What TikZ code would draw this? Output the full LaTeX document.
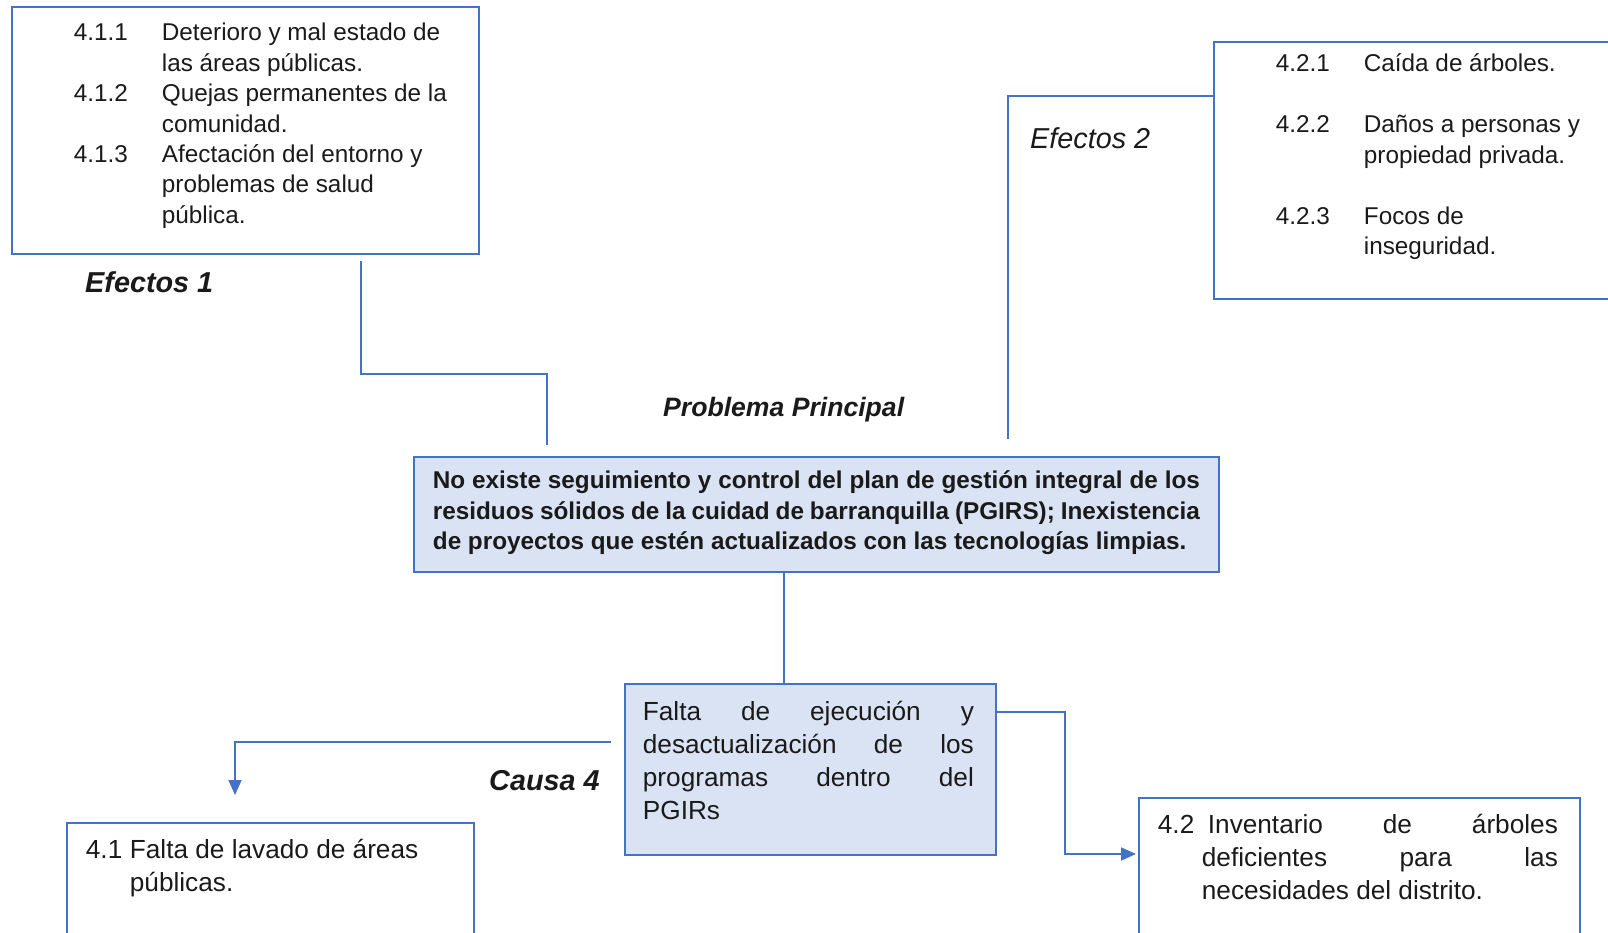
\documentclass[tikz,border=0pt]{standalone}
\usepackage{fontspec}
\setmainfont{Liberation Sans}
\usetikzlibrary{arrows.meta}
\definecolor{boxblue}{HTML}{4472C4}
\definecolor{fillblue}{HTML}{DAE3F3}
\definecolor{ink}{HTML}{1A1A1A}
\def\uptxt{\fontsize{24.3}{30.4}\selectfont}
\def\lowtxt{\fontsize{26.2}{33}\selectfont}
\def\labtxt{\fontsize{28.8}{34}\selectfont}
\def\probtxt{\fontsize{26.6}{32}\selectfont}
\newcommand\numitem[3]{\hangindent=#1\hangafter=1\noindent\makebox[#1][l]{#2}#3\par}
\tikzstyle{box} = [rectangle, draw=boxblue, line width=1.8pt, inner sep=0pt, anchor=north west, text=ink]
\tikzstyle{shaded} = [box, fill=fillblue]
\tikzstyle{tag} = [inner sep=0pt, anchor=base west, text=ink]
\tikzstyle{link} = [draw=boxblue, line width=1.8pt]
\tikzstyle{aro} = [link, -{Triangle[length=15pt,width=13pt]}]

\begin{document}
\begin{tikzpicture}[x=1pt, y=-1pt]
  \useasboundingbox (0,0) rectangle (1608,933);
  \clip (0,0) rectangle (1608,933);

  \node (e1) [box] at (11,6) {\parbox[t][247pt][t]{467pt}{\uptxt\leftskip=62pt
    \numitem{88pt}{\rule{0pt}{34pt}4.1.1}{Deterioro y mal estado de\\las áreas públicas.}
    \numitem{88pt}{4.1.2}{Quejas permanentes de la\\comunidad.}
    \numitem{88pt}{4.1.3}{Afectación del entorno y\\problemas de salud\\pública.}}};
  \node (lab1) [tag, font=\labtxt\bfseries\itshape] at (85,292) {Efectos 1};

  \node (e2) [box] at (1213,41) {\parbox[t][257pt][t]{420pt}{\uptxt\leftskip=62pt
    \numitem{88pt}{\rule{0pt}{30pt}4.2.1}{Caída de árboles.}\vspace{30.6pt}
    \numitem{88pt}{4.2.2}{Daños a personas y\\propiedad privada.}\vspace{30.6pt}
    \numitem{88pt}{4.2.3}{Focos de\\inseguridad.}}};
  \node (lab2) [tag, font=\labtxt\itshape] at (1030,149) {Efectos 2};

  \node (labp) [tag, font=\probtxt\bfseries\itshape] at (663,416) {Problema Principal};
  \node (main) [shaded] at (413,456) {\parbox[t][115pt][t]{805pt}{\uptxt\bfseries\leftskip=19pt\rightskip=19pt
    \rule{0pt}{32pt}No existe seguimiento y control del plan de gestión integral de los\linebreak
    residuos sólidos de la cuidad de barranquilla (PGIRS); Inexistencia\linebreak
    de proyectos que estén actualizados con las tecnologías limpias.}};

  \node (cause) [shaded] at (624,683) {\parbox[t][171pt][t]{371pt}{\lowtxt\leftskip=18pt\rightskip=22pt
    \rule{0pt}{37pt}Falta de ejecución y\linebreak desactualización de los\linebreak
    programas dentro del\linebreak PGIRs}};
  \node (lab4) [tag, font=\labtxt\bfseries\itshape] at (489,790) {Causa 4};

  \node (b41) [box] at (66,822) {\parbox[t][130pt][t]{407pt}{\lowtxt\leftskip=19pt
    \numitem{44pt}{\rule{0pt}{36pt}4.1}{Falta de lavado de áreas\\públicas.}}};

  \node (b42) [box] at (1138,797) {\parbox[t][150pt][t]{441pt}{\lowtxt\leftskip=19pt\rightskip=22pt
    \numitem{44pt}{\rule{0pt}{36pt}4.2}{\hspace{6pt}Inventario de árboles\linebreak deficientes para las\linebreak necesidades del distrito.}}};

  % connectors
  \coordinate (e1x) at (361,0);
  \coordinate (e1mid) at (547,374);
  \draw [link, shorten <=6pt, shorten >=11pt] (e1.south -| e1x) |- (e1mid) -- (e1mid |- main.north);

  \coordinate (e2mid) at (1008,96);
  \draw [link, shorten >=17pt] (e2.west |- e2mid) -- (e2mid) -- (e2mid |- main.north);

  \coordinate (mainx) at (784,0);
  \draw [link] (main.south -| mainx) -- (cause.north -| mainx);

  \coordinate (c4l) at (235,742);
  \draw [aro, shorten <=13pt, shorten >=27pt] (cause.west |- c4l) -| (b41.north -| c4l);

  \coordinate (c4r) at (1065,712);
  \coordinate (c4d) at (1065,854);
  \draw [aro, shorten >=2pt] (cause.east |- c4r) -- (c4r) -- (c4d) -- (b42.west |- c4d);

\end{tikzpicture}
\end{document}
